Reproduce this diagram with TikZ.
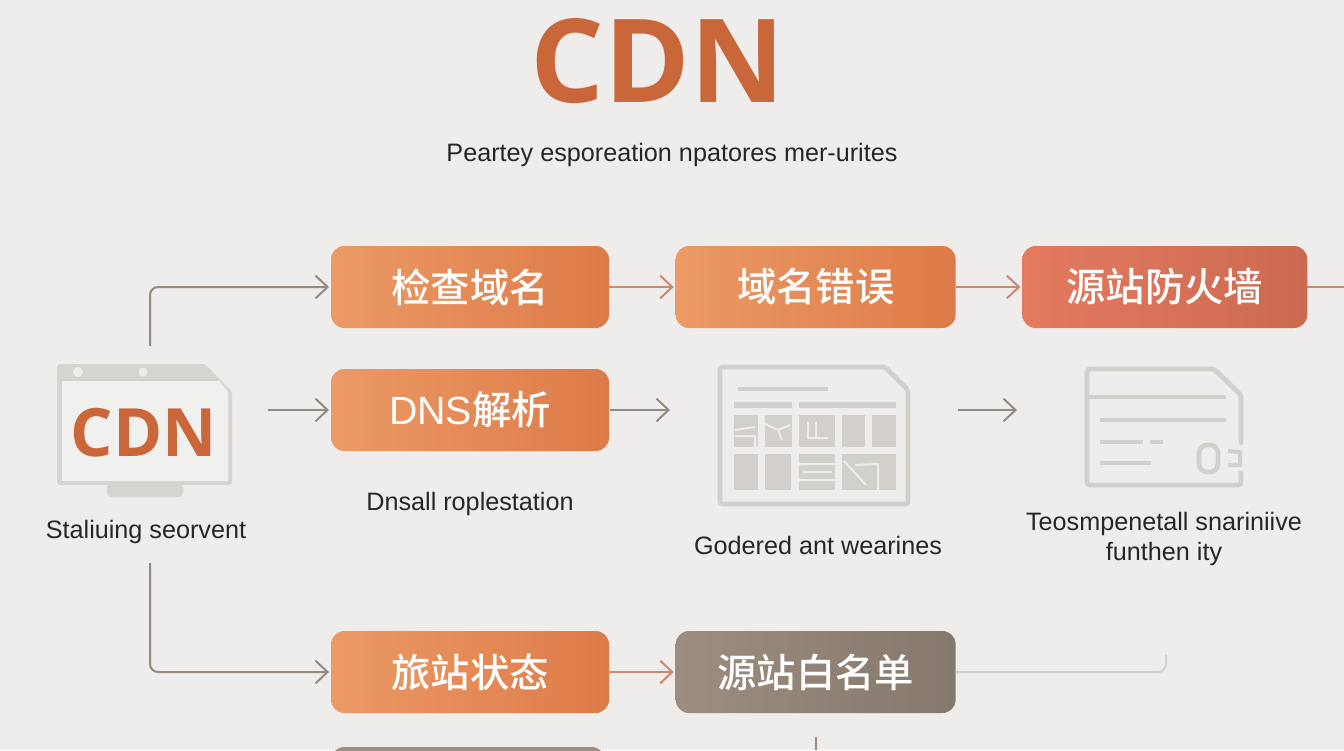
\documentclass[tikz,border=0pt]{standalone}
\usepackage{fontspec}
\usepackage{xcolor}
\setmainfont{Liberation Sans}
\newfontfamily\cjk{Noto Sans CJK SC Medium}
\newfontfamily\titlefont{Open Sans}
\usetikzlibrary{positioning,arrows.meta}
\definecolor{paper}{HTML}{EEEDEB}
\definecolor{rust}{HTML}{C9663A}
\definecolor{arrowgrey}{HTML}{948A80}
\definecolor{arrowred}{HTML}{C98A72}
\definecolor{icongrey}{HTML}{D3D0CB}
\definecolor{boxlight}{HTML}{EC9A66}
\definecolor{boxdark}{HTML}{DD7B48}
\definecolor{redlight}{HTML}{E47A60}
\definecolor{reddark}{HTML}{CB6A50}
\definecolor{brownlight}{HTML}{9C8D80}
\definecolor{browndark}{HTML}{85786C}
\newcommand{\fs}[1]{\fontsize{#1}{22.5}\selectfont}

\begin{document}
\begin{tikzpicture}[x=0.75pt,y=-0.75pt,node distance=50pt,
  every node/.style={outer sep=0pt}
]

\tikzstyle{boxstyle}=[rounded corners=10pt,minimum height=61.5pt,minimum width=208.5pt,
  inner sep=0pt,text=white,font={\cjk\fs{29.5}}]
\tikzset{orange box/.style={boxstyle,left color=boxlight,right color=boxdark}}
\tikzset{red box/.style={boxstyle,left color=redlight,right color=reddark,minimum width=213.75pt}}
\tikzset{brown box/.style={boxstyle,left color=brownlight,right color=browndark,minimum width=210pt}}
\tikzset{caption/.style={text=black!85,font=\fs{18.9},align=center}}
\tikzset{link/.style={line width=1.5pt,arrowgrey,shorten >=1.5pt,-{Straight Barb[length=9pt,width=17pt,line width=1.5pt]}}}
\tikzset{redlink/.style={link,arrowred}}
\tikzset{iconline/.style={line width=3.5pt,icongrey,line join=round}}
\tikzset{iconcell/.style={fill=icongrey,draw=none}}

\clip (0,0) rectangle (1344,750);
\fill[paper] (0,0) rectangle (1344,750);

\node[text=rust,font={\titlefont\bfseries\fs{87}}] (title) at (658,61) {CDN};
\node[caption] (sub) at (672,155) {Peartey esporeation npatores mer-urites};

\node[orange box] (b1) at (470,287) {检查域名};
\node[orange box,minimum width=210pt,right=of b1] (b2) {域名错误};
\node[red box,right=of b2] (b3) {源站防火墙};
\node[orange box,below=30.75pt of b1] (d1) {{\rmfamily DNS}解析};
\node[orange box,below=135pt of d1] (s1) {旅站状态};
\node[brown box,right=of s1] (s2) {源站白名单};
\node[brown box,right color=brownlight,minimum width=205.5pt] (s3) at (468,788) {};

\node[caption,below=27.5pt of d1] (d1text) {Dnsall roplestation};
\node[caption] (cdntext) at (146,532) {Staliuing seorvent};
\node[caption] (tabletext) at (818,545) {Godered ant wearines};
\node[caption] (cardtext) at (1164,539) {Teosmpenetall snariniive\\funthen ity};

% cdn icon
\fill[icongrey!85!paper,rounded corners=2pt] (57,364) -- (205,364) -- (232,392) -- (232,485) -- (57,485) -- cycle;
\fill[icongrey!85!paper,rounded corners=3pt] (107,484) rectangle (183,497);
\fill[paper!85!white] (62,381) -- (219,381) -- (228,392) -- (228,481) -- (62,481) -- cycle;
\fill[paper] (78,372) circle (5) (143,372) circle (4.5);
\node[text=rust,font={\titlefont\bfseries\fs{50}}] (cdnicon) at (144,433) {CDN};

% table icon
\draw[iconline,rounded corners=2pt] (720,367) -- (885,367) -- (908,390) -- (908,504) -- (720,504) -- cycle;
\draw[iconline] (738,389) -- (828,389);
\draw[iconline,line width=5pt] (734,405) -- (792,405) (799,405) -- (896,405);
\foreach \xa/\xb in {734/758,765/792,799/835,842/865,872/896}
  \fill[iconcell] (\xa,415) rectangle (\xb,447);
\foreach \xa/\xb in {734/758,765/791,799/835,842/896}
  \fill[iconcell] (\xa,454) rectangle (\xb,490);
\draw[paper,line width=1.5pt] (735,430) -- (755,427) (735,436) -- (755,436) (755,436) -- (755,447)
  (765,424) -- (778,430) -- (790,425) (778,430) -- (782,440)
  (808,422) -- (808,438) -- (828,438) (816,422) -- (816,438)
  (799,464) -- (835,464) (803,472) -- (832,472) (799,480) -- (835,480)
  (844,461) -- (866,485) (855,465) -- (878,464) -- (878,490);

% card icon
\draw[iconline,line cap=round,rounded corners=2pt] (1241,443) -- (1241,395) -- (1214,369) -- (1087,369) -- (1087,485) -- (1241,485) -- (1241,473);
\draw[iconline] (1087,397) -- (1226,397) (1100,420) -- (1226,420) (1100,442) -- (1143,442)
  (1150,442) -- (1163,442) (1100,463) -- (1151,463);
\draw[iconline,rounded corners=6pt] (1199,445) rectangle (1218,472);
\draw[iconline,line width=3pt] (1228,451) -- (1240,452) -- (1240,465) -- (1228,465);

% free ends
\coordinate (up) at (150,346);
\coordinate (down) at (150,563);
\coordinate (mid) at (268,410);
\coordinate (t2in) at (958,410);
\coordinate (t2out) at (1019,410);
\coordinate (t1in) at (610,410);
\coordinate (t1out) at (672,410);
\coordinate (edge) at (1344,287);
\coordinate (hook) at (1166,655);
\coordinate (stub) at (816,737);
\coordinate (stubend) at (816,750);

\draw[link,rounded corners=6pt] (up) |- (b1.west);
\draw[link,rounded corners=6pt] (down) |- (s1.west);
\draw[link] (mid) -- (d1.west);
\draw[link] (t1in) -- (t1out);
\draw[link] (t2in) -- (t2out);
\draw[redlink] (b1) -- (b2);
\draw[redlink] (b2) -- (b3);
\draw[redlink,-,shorten >=0pt] (b3) -- (edge);
\draw[redlink] (s1) -- (s2);
\draw[line width=1.5pt,icongrey,rounded corners=6pt] (s2.east) -| (hook);
\draw[line width=1pt,arrowgrey] (stub) -- (stubend);

\end{tikzpicture}
\end{document}
